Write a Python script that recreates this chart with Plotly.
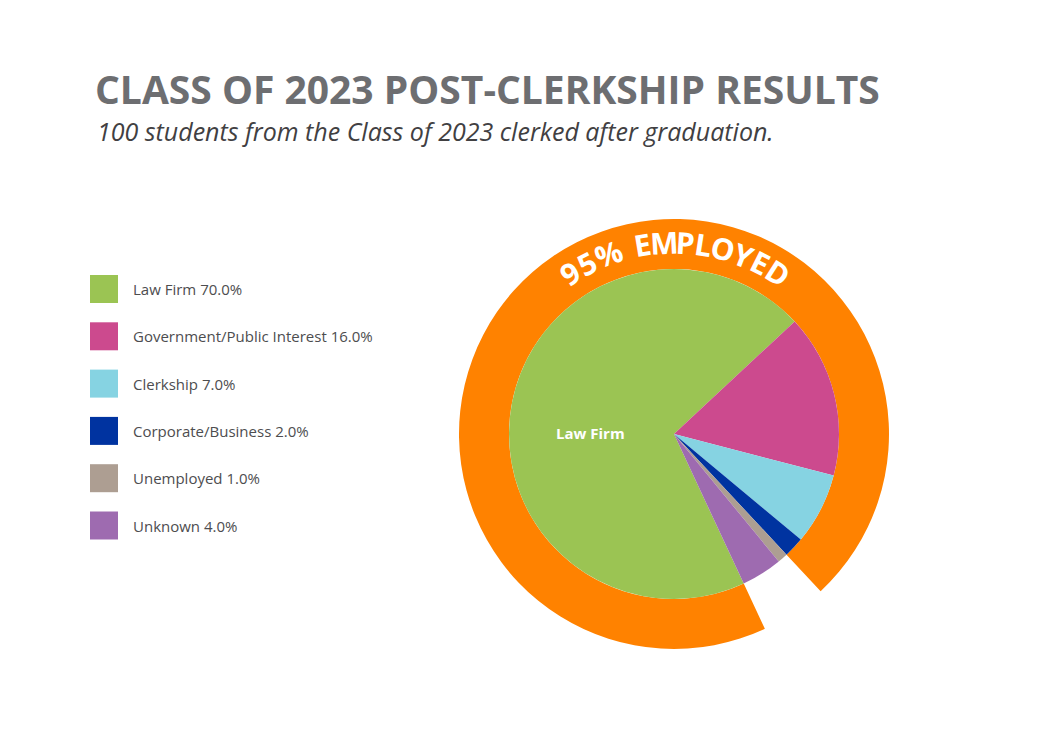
import numpy as np
import plotly.graph_objects as go

categories = ["Law Firm", "Government/Public Interest", "Clerkship",
              "Corporate/Business", "Unemployed", "Unknown"]
shares = [70.0, 16.0, 7.0, 2.0, 1.0, 4.0]
colors = ["#9bc453", "#cc4a8e", "#86d3e2", "#0033a0", "#ad9e92", "#9e6bb0"]
employed = [95, 5]
ring_label = "95% EMPLOYED"

W, H = 1050, 750
off = 8  # page body margin
cx, cy = 674 - off, 434 - off
R_ring, R_pie = 215, 165

def px(x):
    return (x - off) / W

def py(y):
    return 1 - (y - off) / H

def dom_x(r):
    return [(cx - r) / W, (cx + r) / W]

def dom_y(r):
    return [1 - (cy + r) / H, 1 - (cy - r) / H]

fig = go.Figure()
fig.add_trace(go.Pie(values=employed, sort=False, direction="clockwise", rotation=155,
                     hole=R_pie / R_ring, marker=dict(colors=["#ff8200", "rgba(0,0,0,0)"]),
                     textinfo="none", hoverinfo="skip", showlegend=False,
                     domain=dict(x=dom_x(R_ring), y=dom_y(R_ring))))
fig.add_trace(go.Pie(values=shares, labels=categories, sort=False, direction="clockwise",
                     rotation=155, marker=dict(colors=colors), textinfo="none",
                     showlegend=False, domain=dict(x=dom_x(R_pie), y=dom_y(R_pie))))

fig.add_annotation(x=px(590), y=py(433), xref="paper", yref="paper", text="<b>Law Firm</b>",
                   xanchor="center", yanchor="middle", showarrow=False,
                   font=dict(color="white", size=15, family="Open Sans"))

# curved ring text
r_txt = (R_ring + R_pie) / 2 + 2
widths = [0.9, 0.9, 1.3, 0.5, 0.85, 1.1, 0.85, 0.75, 1.1, 0.85, 0.8, 1.0]
cum = np.cumsum(widths) - np.array(widths) / 2
angs = 126 - (126 - 54) * cum / sum(widths)
for ch, a in zip(ring_label, angs):
    if ch == " ":
        continue
    t = np.radians(a)
    x = cx + r_txt * np.cos(t)
    y = cy - r_txt * np.sin(t)
    fig.add_annotation(x=x / W, y=1 - y / H, xref="paper", yref="paper", text="<b>%s</b>" % ch,
                       xanchor="center", yanchor="middle", showarrow=False, textangle=90 - a,
                       font=dict(color="white", size=30, family="Open Sans"))

# legend
for i, (c, s, col) in enumerate(zip(categories, shares, colors)):
    yc = 289 + i * 47.3
    fig.add_shape(type="rect", xref="paper", yref="paper", x0=px(90), x1=px(118),
                  y0=py(yc + 14), y1=py(yc - 14), fillcolor=col, line_width=0)
    fig.add_annotation(x=px(131), y=py(yc), xref="paper", yref="paper", xanchor="left",
                       yanchor="middle", text="%s %.1f%%" % (c, s), showarrow=False,
                       font=dict(color="#4d4d4f", size=15, family="Open Sans"))

fig.add_annotation(x=px(93), y=py(88), xref="paper", yref="paper", xanchor="left",
                   yanchor="middle", text="<b>CLASS OF 2023 POST-CLERKSHIP RESULTS</b>",
                   showarrow=False, font=dict(color="#6d6e71", size=39, family="Open Sans"))
fig.add_annotation(x=px(95), y=py(131), xref="paper", yref="paper", xanchor="left",
                   yanchor="middle",
                   text="<i>100 students from the Class of 2023 clerked after graduation.</i>",
                   showarrow=False, font=dict(color="#414042", size=25, family="Open Sans"))

fig.update_layout(width=W, height=H, margin=dict(l=0, r=0, t=0, b=0),
                  paper_bgcolor="white", plot_bgcolor="white")
fig.write_html("out.html")
